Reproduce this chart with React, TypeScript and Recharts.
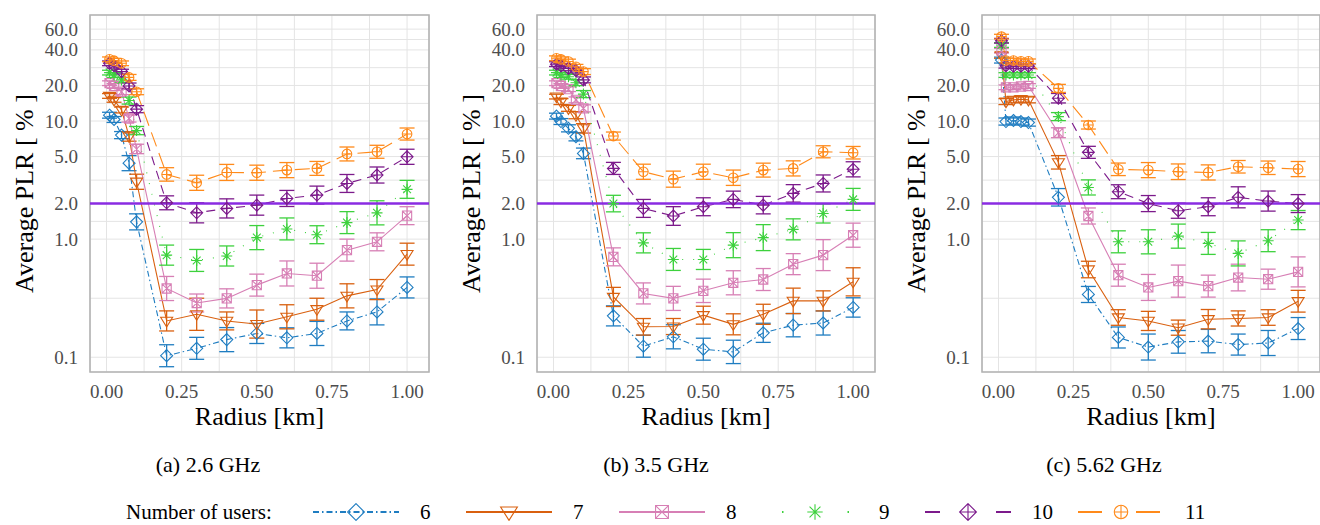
import React from "react";
import {
  LineChart,
  Line,
  XAxis,
  YAxis,
  CartesianGrid,
  ErrorBar,
  ReferenceLine,
  ReferenceArea,
} from "recharts";

// radius [km] of every simulated cell
const radius = [0.01, 0.025, 0.05, 0.075, 0.1, 0.2, 0.3, 0.4, 0.5, 0.6, 0.7, 0.8, 0.9, 1.0];
const users = ["6", "7", "8", "9", "10", "11"];
const colors = ["#1f7dc1", "#d9600f", "#d77fb5", "#3dd13d", "#7c1a8b", "#ff8a1a"];
const dashes = ["6 3 1.5 3", undefined, undefined, "1 10", "9 6", "15 7"];
const legendDashes = ["6 3 1.5 3", undefined, undefined, "1.5 64", "15 56", "24 34"];

// y ticks: labelled majors plus the minor grid in between
const yMajor = [0.1, 1, 2, 5, 10, 20, 40, 60];
const yTicks = [0.1, 0.316, 1, 1.414, 2, 3.16, 5, 7.07, 10, 14.1, 20, 28.3, 40, 49, 60];
const xMajor = [0, 0.25, 0.5, 0.75, 1];
const xTicks = [0, 0.125, 0.25, 0.375, 0.5, 0.625, 0.75, 0.875, 1];
const xDomain = [-0.055, 1.073];
const yDomain = [0.075, 79];

// (a) 2.6 GHz — mean PLR [%] and half-width of CI in log10 units
const plrA6 = [11.2, 10.3, 7.6, 4.4, 1.4, 0.103, 0.119, 0.141, 0.159, 0.146, 0.159, 0.203, 0.242, 0.39];
const errA6 = [0.025, 0.025, 0.03, 0.064, 0.068, 0.093, 0.093, 0.102, 0.085, 0.085, 0.102, 0.076, 0.11, 0.089];
const plrA7 = [16.3, 15.1, 12.4, 7.4, 3.06, 0.203, 0.231, 0.203, 0.191, 0.22, 0.255, 0.331, 0.374, 0.746];
const errA7 = [0.02, 0.02, 0.025, 0.04, 0.064, 0.085, 0.136, 0.076, 0.119, 0.102, 0.093, 0.102, 0.085, 0.093];
const plrA8 = [20.9, 19.8, 17.7, 10.5, 5.8, 0.382, 0.288, 0.315, 0.408, 0.512, 0.49, 0.807, 0.949, 1.58];
const errA8 = [0.02, 0.02, 0.025, 0.03, 0.04, 0.102, 0.076, 0.081, 0.093, 0.106, 0.106, 0.093, 0.076, 0.076];
const plrA9 = [25.7, 24.5, 22.3, 14.9, 8.3, 0.732, 0.66, 0.72, 1.03, 1.22, 1.09, 1.38, 1.67, 2.64];
const errA9 = [0.02, 0.02, 0.02, 0.03, 0.035, 0.085, 0.093, 0.085, 0.102, 0.093, 0.076, 0.093, 0.102, 0.076];
const plrA10 = [30.8, 29.4, 26.2, 19.8, 12.6, 2.03, 1.67, 1.82, 1.94, 2.21, 2.36, 2.96, 3.49, 4.98];
const errA10 = [0.02, 0.02, 0.02, 0.025, 0.03, 0.059, 0.085, 0.081, 0.085, 0.068, 0.076, 0.076, 0.068, 0.064];
const plrA11 = [33.3, 32.4, 30.8, 23.4, 17.7, 3.53, 3.0, 3.67, 3.65, 3.84, 3.97, 5.26, 5.49, 7.76];
const errA11 = [0.02, 0.02, 0.02, 0.025, 0.025, 0.057, 0.064, 0.068, 0.064, 0.064, 0.059, 0.059, 0.055, 0.051];

// (b) 3.5 GHz
const plrB6 = [11.0, 9.9, 8.67, 7.36, 5.32, 0.224, 0.124, 0.149, 0.117, 0.111, 0.161, 0.187, 0.195, 0.264];
const errB6 = [0.025, 0.025, 0.03, 0.035, 0.045, 0.085, 0.093, 0.102, 0.093, 0.099, 0.081, 0.099, 0.102, 0.082];
const plrB7 = [16.1, 14.6, 12.8, 11.2, 8.67, 0.324, 0.181, 0.182, 0.227, 0.19, 0.231, 0.3, 0.3, 0.435];
const errB7 = [0.02, 0.025, 0.025, 0.03, 0.04, 0.081, 0.07, 0.068, 0.076, 0.089, 0.085, 0.108, 0.085, 0.119];
const plrB8 = [20.9, 19.8, 18.6, 15.1, 12.8, 0.708, 0.347, 0.315, 0.365, 0.427, 0.455, 0.614, 0.732, 1.08];
const errB8 = [0.02, 0.02, 0.02, 0.025, 0.03, 0.076, 0.089, 0.102, 0.099, 0.102, 0.093, 0.089, 0.131, 0.102];
const plrB9 = [25.7, 24.5, 23.7, 21.1, 16.9, 2.0, 0.93, 0.673, 0.673, 0.889, 1.03, 1.21, 1.65, 2.17];
const errB9 = [0.02, 0.02, 0.02, 0.025, 0.03, 0.07, 0.085, 0.093, 0.085, 0.106, 0.11, 0.089, 0.081, 0.093];
const plrB10 = [30.3, 29.3, 27.9, 26.7, 22.3, 3.97, 1.82, 1.57, 1.88, 2.17, 1.94, 2.44, 2.96, 3.9];
const errB10 = [0.02, 0.02, 0.02, 0.02, 0.025, 0.051, 0.076, 0.079, 0.076, 0.07, 0.074, 0.074, 0.072, 0.064];
const plrB11 = [34.0, 33.3, 31.9, 28.8, 26.2, 7.46, 3.72, 3.22, 3.72, 3.31, 3.84, 3.97, 5.49, 5.39];
const errB11 = [0.02, 0.02, 0.02, 0.02, 0.025, 0.034, 0.064, 0.068, 0.064, 0.065, 0.059, 0.064, 0.051, 0.053];

// (c) 5.62 GHz
const plrC6 = [32.8, 9.9, 10.1, 9.9, 9.7, 2.26, 0.34, 0.147, 0.122, 0.135, 0.137, 0.128, 0.132, 0.175];
const errC6 = [0.025, 0.03, 0.03, 0.03, 0.03, 0.074, 0.068, 0.089, 0.11, 0.096, 0.099, 0.089, 0.106, 0.093];
const plrC7 = [36.0, 14.6, 15.1, 15.3, 15.1, 4.47, 0.553, 0.217, 0.203, 0.178, 0.21, 0.213, 0.217, 0.298];
const errC7 = [0.025, 0.025, 0.025, 0.025, 0.025, 0.057, 0.07, 0.066, 0.081, 0.064, 0.082, 0.064, 0.066, 0.092];
const plrC8 = [39.4, 19.3, 19.3, 19.6, 19.8, 7.96, 1.57, 0.495, 0.39, 0.441, 0.4, 0.473, 0.458, 0.528];
const errC8 = [0.02, 0.02, 0.02, 0.02, 0.02, 0.042, 0.068, 0.093, 0.11, 0.136, 0.093, 0.113, 0.085, 0.127];
const plrC9 = [44.0, 24.5, 24.5, 24.5, 24.5, 10.9, 2.74, 0.949, 0.949, 1.06, 0.92, 0.757, 0.97, 1.45];
const errC9 = [0.02, 0.02, 0.02, 0.02, 0.02, 0.034, 0.064, 0.093, 0.102, 0.102, 0.093, 0.106, 0.093, 0.081];
const plrC10 = [47.8, 29.4, 29.1, 29.1, 29.1, 15.6, 5.43, 2.52, 2.0, 1.74, 1.88, 2.26, 2.1, 2.0];
const errC10 = [0.02, 0.02, 0.02, 0.02, 0.02, 0.04, 0.051, 0.059, 0.068, 0.064, 0.076, 0.089, 0.085, 0.076];
const plrC11 = [51.8, 32.5, 32.5, 32.0, 32.0, 18.9, 9.25, 3.9, 3.84, 3.72, 3.67, 4.1, 4.02, 3.92];
const errC11 = [0.02, 0.02, 0.02, 0.02, 0.02, 0.034, 0.034, 0.053, 0.064, 0.066, 0.064, 0.053, 0.057, 0.064];

const font = "Liberation Serif, DejaVu Serif, serif";

function buildRows(series: number[][], errs: number[][]) {
  return radius.map((r, i) => {
    const row: any = { r };
    series.forEach((s, k) => {
      const v = s[i];
      const f = Math.pow(10, errs[k][i]);
      row["u" + k] = v;
      row["e" + k] = [v - v / f, v * f - v];
    });
    return row;
  });
}

const rowsA = buildRows(
  [plrA6, plrA7, plrA8, plrA9, plrA10, plrA11],
  [errA6, errA7, errA8, errA9, errA10, errA11]
);
const rowsB = buildRows(
  [plrB6, plrB7, plrB8, plrB9, plrB10, plrB11],
  [errB6, errB7, errB8, errB9, errB10, errB11]
);
const rowsC = buildRows(
  [plrC6, plrC7, plrC8, plrC9, plrC10, plrC11],
  [errC6, errC7, errC8, errC9, errC10, errC11]
);

function marker(kind: number, cx: number, cy: number, color: string, s = 1) {
  const p = { fill: "none", stroke: color, strokeWidth: 1.1 };
  if (kind === 0) {
    const r = 6 * s;
    return <path {...p} d={`M${cx},${cy - r}L${cx + r},${cy}L${cx},${cy + r}L${cx - r},${cy}Z`} />;
  }
  if (kind === 1) {
    const r = 6 * s;
    return <path {...p} d={`M${cx - r},${cy - r * 0.6}L${cx + r},${cy - r * 0.6}L${cx},${cy + r}Z`} />;
  }
  if (kind === 2) {
    const r = 4.6 * s;
    return (
      <path
        {...p}
        d={`M${cx - r},${cy - r}H${cx + r}V${cy + r}H${cx - r}Z M${cx - r},${cy - r}L${cx + r},${cy + r} M${cx + r},${cy - r}L${cx - r},${cy + r}`}
      />
    );
  }
  if (kind === 3) {
    const r = 5.5 * s;
    const d = r * 0.707;
    return (
      <path
        {...p}
        d={`M${cx - r},${cy}H${cx + r} M${cx},${cy - r}V${cy + r} M${cx - d},${cy - d}L${cx + d},${cy + d} M${cx + d},${cy - d}L${cx - d},${cy + d}`}
      />
    );
  }
  if (kind === 4) {
    const r = 6 * s;
    return (
      <path
        {...p}
        d={`M${cx},${cy - r}L${cx + r},${cy}L${cx},${cy + r}L${cx - r},${cy}Z M${cx - r},${cy}H${cx + r} M${cx},${cy - r}V${cy + r}`}
      />
    );
  }
  const r = 4.8 * s;
  return (
    <g>
      <circle {...p} cx={cx} cy={cy} r={r} />
      <path {...p} d={`M${cx - r},${cy}H${cx + r} M${cx},${cy - r}V${cy + r}`} />
    </g>
  );
}

function XTick(props: any) {
  const { x, y, payload } = props;
  const v = payload.value;
  if (!xMajor.includes(v)) return <g />;
  return (
    <text x={x} y={y + 14} textAnchor="middle" fill="#4d4d4d" fontSize={19} fontFamily={font}>
      {v.toFixed(2)}
    </text>
  );
}

function YTick(props: any) {
  const { x, y, payload } = props;
  const v = payload.value;
  if (!yMajor.includes(v)) return <g />;
  return (
    <text x={x} y={y + 6.5} textAnchor="end" fill="#4d4d4d" fontSize={19} fontFamily={font}>
      {v.toFixed(1)}
    </text>
  );
}

function xTitle(props: any) {
  const vb = props.viewBox;
  return (
    <text
      x={vb.x + vb.width / 2}
      y={vb.y + vb.height + 23}
      textAnchor="middle"
      fontFamily={font}
      fontSize={26}
      fill="#000"
    >
      Radius [km]
    </text>
  );
}

function yTitle(props: any) {
  const vb = props.viewBox;
  const x = vb.x + vb.width - 57;
  const y = vb.y + vb.height / 2;
  return (
    <text
      x={x}
      y={y}
      transform={`rotate(-90 ${x} ${y})`}
      textAnchor="middle"
      fontFamily={font}
      fontSize={26}
      fill="#000"
    >
      Average PLR [ % ]
    </text>
  );
}

function Panel({ rows, left, axisWidth, right }: any) {
  return (
    <div style={{ position: "absolute", left, top: 0 }}>
      <LineChart
        width={440}
        height={440}
        data={rows}
        margin={{ top: 15, right, bottom: 38, left: 0 }}
        style={{ fontFamily: font }}
      >
        <CartesianGrid stroke="#e4e4e4" strokeWidth={1} />
        <XAxis
          dataKey="r"
          type="number"
          domain={xDomain}
          ticks={xTicks}
          interval={0}
          allowDataOverflow
          tickLine={false}
          axisLine={false}
          tickSize={6}
          tickMargin={6}
          height={30}
          tick={<XTick />}
          label={{ content: xTitle }}
        />
        <YAxis
          type="number"
          scale="log"
          domain={yDomain}
          ticks={yTicks}
          interval={0}
          allowDataOverflow
          width={axisWidth}
          tickLine={false}
          axisLine={false}
          tickSize={6}
          tickMargin={6}
          tick={<YTick />}
          label={{ content: yTitle }}
        />
        <ReferenceArea
          x1={xDomain[0]}
          x2={xDomain[1]}
          y1={yDomain[0]}
          y2={yDomain[1]}
          fill="none"
          stroke="#b3b3b3"
          strokeWidth={1.6}
          ifOverflow="visible"
        />
        {users.map((u, k) => (
          <Line
            key={u}
            type="linear"
            dataKey={"u" + k}
            stroke={colors[k]}
            strokeWidth={1.1}
            strokeDasharray={dashes[k]}
            dot={(d: any) => <g key={"m" + k + "-" + d.index}>{marker(k, d.cx, d.cy, colors[k])}</g>}
            activeDot={false}
            isAnimationActive={false}
          >
            <ErrorBar
              dataKey={"e" + k}
              direction="y"
              width={7.5}
              stroke={colors[k]}
              strokeWidth={1.3}
              isAnimationActive={false}
            />
          </Line>
        ))}
        <ReferenceLine y={2} stroke="#8a2be2" strokeWidth={2.5} />
      </LineChart>
    </div>
  );
}

const captions = ["(a) 2.6 GHz", "(b) 3.5 GHz", "(c) 5.62 GHz"];
const captionCenters = [208, 656, 1104];

function LegendGlyph({ k }: { k: number }) {
  return (
    <svg width={86} height={18} style={{ display: "block" }}>
      <line
        x1={k === 3 ? 10 : 0}
        y1={9}
        x2={86}
        y2={9}
        stroke={colors[k]}
        strokeWidth={k === 3 ? 2 : 1.8}
        strokeDasharray={legendDashes[k]}
      />
      {marker(k, 43, 9, colors[k], 1.4)}
    </svg>
  );
}

export default function App() {
  return (
    <div
      style={{
        position: "absolute",
        left: 0,
        top: 0,
        width: 1320,
        height: 525,
        overflow: "hidden",
        background: "#fff",
        fontFamily: font,
      }}
    >
      <Panel rows={rowsA} left={0} axisWidth={90} right={11} />
      <Panel rows={rowsB} left={440} axisWidth={97} right={5} />
      <Panel rows={rowsC} left={880} axisWidth={102} right={0} />
      {captions.map((c, i) => (
        <div
          key={c}
          style={{
            position: "absolute",
            left: captionCenters[i] - 150,
            width: 300,
            top: 452,
            textAlign: "center",
            fontSize: 22,
            lineHeight: "26px",
          }}
        >
          {c}
        </div>
      ))}
      <div
        style={{
          position: "absolute",
          left: 126,
          top: 502,
          fontSize: 21,
          lineHeight: "20px",
          whiteSpace: "nowrap",
        }}
      >
        Number of users:
      </div>
      {users.map((u, k) => (
        <div
          key={u}
          style={{
            position: "absolute",
            left: 313 + k * 153,
            top: 503,
            display: "flex",
            alignItems: "center",
            fontSize: 21,
            lineHeight: "18px",
          }}
        >
          <LegendGlyph k={k} />
          <span style={{ marginLeft: 21 }}>{u}</span>
        </div>
      ))}
    </div>
  );
}
